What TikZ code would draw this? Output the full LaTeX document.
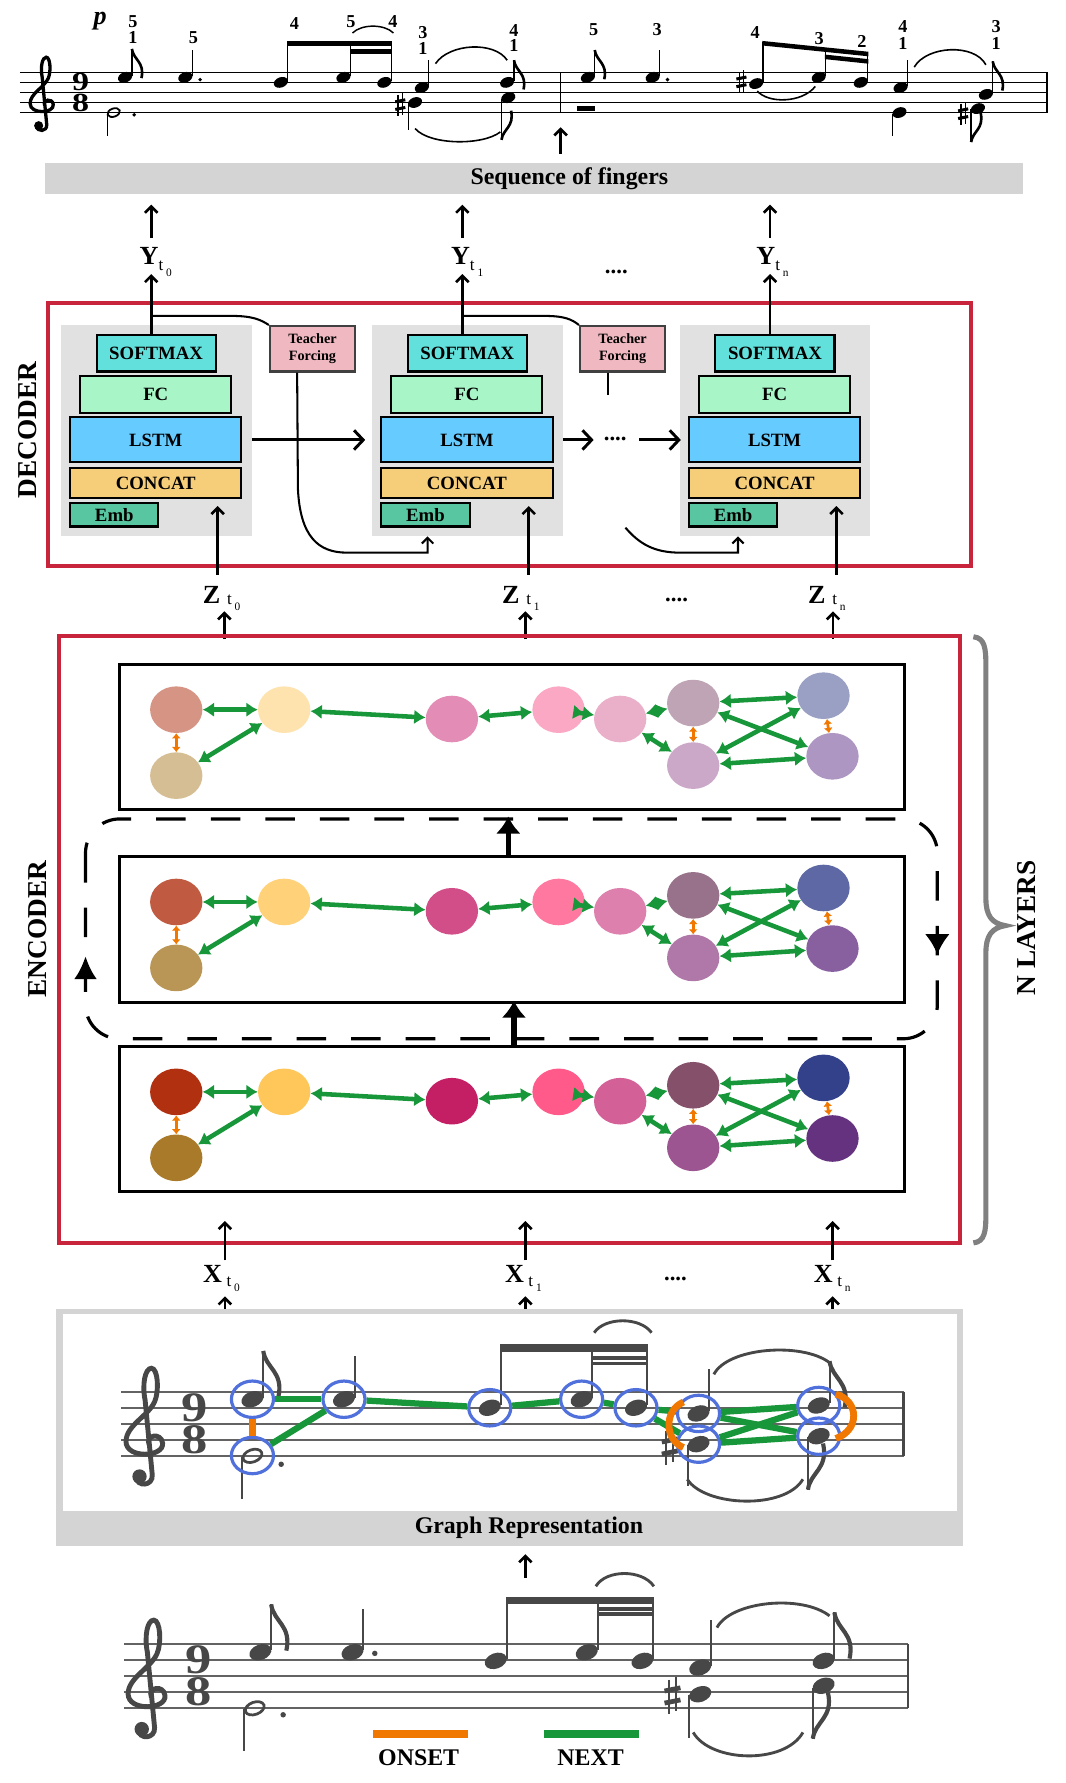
\documentclass[tikz,border=0pt]{standalone}
\usepackage{fontspec}
\setmainfont{Liberation Serif}
\usetikzlibrary{arrows.meta,shapes.geometric}
\definecolor{redbox}{HTML}{C8243C}
\definecolor{panelgray}{HTML}{E1E1E1}
\definecolor{barg}{HTML}{D4D4D4}
\definecolor{smc}{HTML}{62E0DC}
\definecolor{fcc}{HTML}{A8F6C8}
\definecolor{lsc}{HTML}{66CCFF}
\definecolor{ccc}{HTML}{F6CE7A}
\definecolor{emc}{HTML}{58C6A0}
\definecolor{tfc}{HTML}{F0B8C0}
\definecolor{gedgec}{HTML}{17963A}
\definecolor{oedgec}{HTML}{F07800}
\definecolor{bluec}{HTML}{5070DC}
\definecolor{scoreg}{HTML}{474747}
\definecolor{braceg}{HTML}{808080}
% node colours
\definecolor{ca1}{HTML}{D69484}\definecolor{ca2}{HTML}{FEE3AE}\definecolor{ca3}{HTML}{D6BE94}\definecolor{ca4}{HTML}{E28CB6}\definecolor{ca5}{HTML}{FBA8C4}
\definecolor{ca6}{HTML}{EAB0CA}\definecolor{ca7}{HTML}{BEA4B4}\definecolor{ca8}{HTML}{CCA8C8}\definecolor{ca9}{HTML}{9AA0C4}\definecolor{ca10}{HTML}{AE96C2}
\definecolor{cb1}{HTML}{C05A40}\definecolor{cb2}{HTML}{FFD27A}\definecolor{cb3}{HTML}{BA9656}\definecolor{cb4}{HTML}{D24E88}\definecolor{cb5}{HTML}{FF78A0}
\definecolor{cb6}{HTML}{DE80AE}\definecolor{cb7}{HTML}{98728A}\definecolor{cb8}{HTML}{B078A8}\definecolor{cb9}{HTML}{5E68A4}\definecolor{cb10}{HTML}{8860A0}
\definecolor{cc1}{HTML}{B03010}\definecolor{cc2}{HTML}{FFC75A}\definecolor{cc3}{HTML}{A87A2A}\definecolor{cc4}{HTML}{C41E65}\definecolor{cc5}{HTML}{FF5A8A}
\definecolor{cc6}{HTML}{D46098}\definecolor{cc7}{HTML}{84506A}\definecolor{cc8}{HTML}{9C5590}\definecolor{cc9}{HTML}{33418A}\definecolor{cc10}{HTML}{65327F}

\newcommand\sqlbl[4]{{\fontsize{23}{23}\selectfont\bfseries #1}\hspace{#3}\raisebox{-#4}{\fontsize{15}{15}\selectfont t}\hspace{2.5pt}\raisebox{\dimexpr-#4-5pt\relax}{\fontsize{10}{10}\selectfont #2}}
\newcommand\trebclef[5]{\begin{scope}[shift={(#1,#2)},x=#3pt,y=-#3pt]
 \draw[#5,line width=#4pt,line cap=round] (0.15,0.3) .. controls (-0.1,-0.3) and (0.9,-0.5) .. (1.0,0.2)
 .. controls (1.1,1.1) and (-1.3,1.2) .. (-1.3,0.1)
 .. controls (-1.3,-0.9) and (0.1,-1.5) .. (0.5,-2.4)
 .. controls (0.8,-3.1) and (0.7,-4.5) .. (0.3,-4.5)
 .. controls (-0.1,-4.5) and (-0.3,-3.5) .. (-0.1,-2.5)
 -- (0.35,2.2) .. controls (0.4,2.9) and (-0.6,3.0) .. (-0.7,2.3);
 \fill[#5] (-0.45,2.3) circle (0.45);
\end{scope}}
\newcommand\sharpsign[4]{\begin{scope}[shift={(#1,#2)},x=#3pt,y=-#3pt]
 \draw[#4,line width=0.12*#3pt] (-0.22,-1.0) -- (-0.22,1.15) (0.22,-1.15) -- (0.22,1.0);
 \draw[#4,line width=0.3*#3pt] (-0.5,-0.28) -- (0.5,-0.48) (-0.5,0.48) -- (0.5,0.28);
\end{scope}}
\newcommand\flagup[4]{\begin{scope}[shift={(#1,#2)},x=#3pt,y=-#3pt]\draw[#4,line width=0.26*#3pt] (0,0) .. controls (0.15,1.1) and (1.3,1.3) .. (0.95,2.9);\end{scope}}
\newcommand\flagdn[4]{\begin{scope}[shift={(#1,#2)},x=#3pt,y=-#3pt]\draw[#4,line width=0.26*#3pt] (0,0) .. controls (0.15,-1.1) and (1.3,-1.3) .. (0.95,-2.9);\end{scope}}
\newcommand\hA[2]{\fill[rotate around={20:(#1,#2)}] (#1,#2) ellipse (6.4pt and 4.5pt);}
\newcommand\hB[2]{\fill[scoreg,rotate around={20:(#1,#2)}] (#1,#2) ellipse (10pt and 6.8pt);}

\begin{document}
\begin{tikzpicture}[x=1pt,y=-1pt,
  panel/.style={fill=panelgray, minimum width=167.5pt, minimum height=186pt, inner sep=0},
  blk/.style={draw=black, line width=1.8pt, inner sep=0, font=\fontsize{16.5}{16.5}\selectfont\bfseries},
  tfbox/.style={draw=black!75, line width=1.8pt, fill=tfc, minimum width=75pt, minimum height=40pt, inner sep=0, align=center, font=\fontsize{12.5}{15}\selectfont\bfseries},
  arr/.style={line width=2.3pt, -{Straight Barb[length=5.5pt,width=11pt]}},
  arrL/.style={line width=2.6pt, -{Straight Barb[length=8pt,width=17pt]}},
  conn/.style={line width=1.8pt},
  gnode/.style={ellipse, minimum width=46pt, minimum height=41pt, inner sep=0},
  gedge/.style={gedgec, line width=4pt, {Latex[length=10pt,width=13pt]}-{Latex[length=10pt,width=13pt]}},
  oedge/.style={oedgec, line width=2.4pt, {Latex[length=4.5pt,width=8pt]}-{Latex[length=4.5pt,width=8pt]}},
  layerbox/.style={draw=black, line width=2.6pt, fill=white},
  bigup/.style={line width=4.5pt, -{Latex[length=15pt,width=22pt]}},
  bcirc/.style={ellipse, draw=bluec, line width=2.8pt, minimum width=37pt, minimum height=32pt, inner sep=0},
  gline/.style={gedgec, line width=5.5pt},
  oline/.style={oedgec, line width=5.5pt},
  title/.style={font=\fontsize{21}{21}\selectfont\bfseries, inner sep=0},
  side/.style={font=\fontsize{24}{24}\selectfont\bfseries, inner sep=0, rotate=90},
  fing/.style={font=\fontsize{16}{16}\selectfont\bfseries, inner sep=0},
  dots/.style={font=\fontsize{20}{20}\selectfont\bfseries, inner sep=0},
  tsig/.style={inner sep=0, xscale=1.3, align=center, font=\fontsize{23}{17.7}\selectfont\bfseries},
  tsigB/.style={inner sep=0, xscale=1.25, align=center, text=scoreg, font=\fontsize{37}{28.1}\selectfont\bfseries},
]
\useasboundingbox (0,0) rectangle (937,1568);
\fill[white] (0,0) rectangle (937,1568);

% ================= TOP SCORE =================
\foreach \yy in {63.6,72.45,81.3,90.15,99}{\draw[line width=0.9pt] (17.5,\yy) -- (920.5,\yy);}
\draw[line width=1.4pt] (493,63.6) -- (493,99);
\draw[line width=1.4pt] (920.5,63.6) -- (920.5,99);
\trebclef{38}{90.15}{8.85}{2.9}{black}
\node[tsig] (ts1) at (71,81.3) {9\\8};
\node[inner sep=0,font=\fontsize{23}{23}\selectfont\bfseries\itshape] (dyn) at (88,19) {p};
% fingerings
\node[fing] (f1) at (117,19) {5}; \node[fing] (f2) at (117,32.8) {1};
\node[fing] (f3) at (170,32.8) {5};
\node[fing] (f4) at (259,21) {4}; \node[fing] (f5) at (308.5,19) {5}; \node[fing] (f6) at (345.5,19) {4};
\node[fing] (f7) at (372,29) {3}; \node[fing] (f8) at (372,42.5) {1};
\node[fing] (f9) at (452,27) {4}; \node[fing] (f10) at (452,40) {1};
\node[fing] (f11) at (522,26) {5}; \node[fing] (f12) at (578,26) {3};
\node[fing] (f13) at (664,29) {4}; \node[fing] (f14) at (720.4,33.7) {3}; \node[fing] (f15) at (758,36.6) {2};
\node[fing] (f16) at (794,23) {4}; \node[fing] (f17) at (794,38) {1};
\node[fing] (f18) at (876,23.4) {3}; \node[fing] (f19) at (876,38) {1};
% notes measure 1
\hA{110}{68} \draw[line width=1.1pt] (116,67) -- (116,43); \flagup{116}{43}{8.85}{black}
\hA{163}{68} \draw[line width=1.1pt] (169,67) -- (169,44); \fill (176,70) circle (1.7);
\hA{247}{72.45} \draw[line width=1.1pt] (253,71) -- (253,38);
\hA{302}{68} \draw[line width=1.1pt] (308,67) -- (308,38);
\hA{338}{72.45} \draw[line width=1.1pt] (344,71) -- (344,38);
\fill (252.4,36.3) rectangle (344.6,40.3); \fill (307.4,43.3) rectangle (344.6,47.3);
\draw[line width=1.3pt] (310,29) .. controls (318,21) and (338,21) .. (346,29);
\hA{371}{77} \draw[line width=1.1pt] (377,76) -- (377,53);
\hA{365}{90.15} \draw[line width=1.1pt] (359,91) -- (359,114);
\sharpsign{352}{92}{8.85}{black}
\hA{446}{72.45} \draw[line width=1.1pt] (452,71) -- (452,53); \flagup{452}{53}{8.85}{black}
\hA{447}{85.9} \draw[line width=1.1pt] (441,87) -- (441,123); \flagdn{441}{123}{8.85}{black}
\draw[line width=1.4pt] (383,56) .. controls (395,38) and (435,36) .. (446,53);
\draw[line width=1.4pt] (365,113) .. controls (378,128) and (425,128) .. (440,116);
\draw[line width=1.6pt,rotate around={20:(100,99)}] (100,99) ellipse (5.6pt and 3.6pt);
\draw[line width=1.1pt] (94.3,100) -- (94.3,120); \fill (118,101) circle (1.7);
% measure 2
\hA{517}{68} \draw[line width=1.1pt] (523,67) -- (523,44); \flagup{523}{44}{8.85}{black}
\hA{574}{68} \draw[line width=1.1pt] (580,67) -- (580,44); \fill (587,70) circle (1.7);
\fill (507,93) rectangle (523,97.6);
\hA{665}{73.5} \draw[line width=1.1pt] (671,72) -- (671,37);
\sharpsign{652}{72}{8.85}{black}
\hA{720}{68} \draw[line width=1.1pt] (726,67) -- (726,42);
\hA{757}{72.45} \draw[line width=1.1pt] (763,71) -- (763,46);
\fill (670.4,36) -- (763.6,45.5) -- (763.6,49.5) -- (670.4,40) -- cycle;
\fill (725.4,48) -- (763.6,52) -- (763.6,56) -- (725.4,52) -- cycle;
\draw[line width=1.4pt] (666,80) .. controls (675,91) and (705,91) .. (717,76);
\hA{792}{77} \draw[line width=1.1pt] (798,76) -- (798,53);
\hA{791}{99} \draw[line width=1.1pt] (785,100) -- (785,120);
\hA{867}{83} \draw[line width=1.1pt] (873,82) -- (873,54); \flagup{873}{54}{8.85}{black}
\hA{860}{95.5} \draw[line width=1.1pt] (854,96) -- (854,125); \flagdn{854}{125}{8.85}{black}
\sharpsign{847}{100}{8.85}{black}
\draw[line width=1.4pt] (804,59) .. controls (815,40) and (857,38) .. (867,57);
% arrow and bar
\draw[arr] (493,135) -- (493,112);
\fill[barg] (39.8,143.6) rectangle (899.5,170.5);
\node[title] (seqf) at (500.7,157) {Sequence of fingers};

% ================= DECODER =================
\draw[redbox, line width=3.5pt] (41.9,266.6) rectangle (854,498);
\node[side] (declbl) at (24,378) {DECODER};
\foreach \k/\dx/\yl/\sb in {0/0/122.6/0,1/273.6/396.5/1,2/544.2/665/n}{
  \node[panel] (pn\k) at (137.5+\dx,378.7) {};
  \node[blk, fill=smc, minimum width=104.7pt, minimum height=32.2pt] (sm\k) at (137.3+\dx,310.6) {SOFTMAX};
  \node[blk, fill=fcc, minimum width=132.7pt, minimum height=32.3pt] (fc\k) at (137+\dx,347.2) {FC};
  \node[blk, fill=lsc, minimum width=150.7pt, minimum height=39.6pt] (ls\k) at (137+\dx,386.9) {LSTM};
  \node[blk, fill=ccc, minimum width=150.7pt, minimum height=26.4pt] (cc\k) at (137+\dx,424.8) {CONCAT};
  \node[blk, fill=emc, minimum width=77.7pt, minimum height=20.6pt] (em\k) at (100.5+\dx,452.7) {Emb};
  \coordinate (yo\k) at (133+\dx,241);
  \draw[arr] (sm\k.north -| yo\k) -- (yo\k);
  \node[anchor=base west, inner sep=0] (yl\k) at (\yl,233) {\sqlbl{Y}{\sb}{0pt}{5pt}};
  \draw[arr] (133+\dx,209.5) -- (133+\dx,180);
  \coordinate (di\k) at (191.4+\dx,445);
  \draw[arr] (191.4+\dx,505.4) -- (di\k);
}
\node[dots] (ydots) at (542,239) {....};
% teacher forcing
\node[tfbox] (tf0) at (274.8,306.7) {Teacher\\Forcing};
\node[tfbox] (tf1) at (547.5,306.7) {Teacher\\Forcing};
\draw[conn] (133,277.8) -- (203,277.8) .. controls (222,277.8) and (229,281) .. (tf0.north west);
\draw[conn] (406.6,277.8) -- (478,277.8) .. controls (497,277.8) and (503,281) .. (tf1.north west);
\draw[conn,-{Straight Barb[length=5pt,width=10pt]}] (tf0.south -| 261.3,0) -- (262,430) .. controls (264,472) and (280,486) .. (305,486) -- (376,486) -- (376,471.7);
\draw[conn] (tf1.south -| 535,0) -- (535,347);
\draw[conn,-{Straight Barb[length=5pt,width=10pt]}] (550,464) .. controls (562,478) and (575,486) .. (598,486) -- (649,486) -- (649,471.7);
% LSTM recurrences
\draw[arrL] (pn0.east |- ls0) -- ([xshift=-6pt]pn1.west |- ls1);
\draw[arrL] (pn1.east |- ls1) -- ++(27,0);
\node[dots] (ldots) at (541,386) {....};
\draw[arrL] (562,386.9) -- ([xshift=1pt]pn2.west |- ls2);

% Z labels
\node[anchor=base west, inner sep=0] (zl0) at (178.2,530.3) {\sqlbl{Z}{0}{6pt}{1.5pt}};
\node[anchor=base west, inner sep=0] (zl1) at (441.3,530.3) {\sqlbl{Z}{1}{6pt}{1.5pt}};
\node[anchor=base west, inner sep=0] (zl2) at (710.4,530.3) {\sqlbl{Z}{n}{6pt}{1.5pt}};
\node[dots] (zdots) at (595,528) {....};
\foreach \xx in {197.3,462,732.6}{\draw[arr] (\xx,562) -- (\xx,537.6);}

% ================= ENCODER =================
\draw[redbox, line width=3.5pt] (51.8,559) rectangle (844,1093);
\node[side] (enclbl) at (33,817) {ENCODER};
\node[layerbox, minimum width=690pt, minimum height=127.5pt] (lay1) at (450.5,648.2) {};
\draw[line width=2.8pt, dash pattern=on 26pt off 22pt, rounded corners=30pt] (75.2,720.2) rectangle (824.3,913.5);
\node[layerbox, minimum width=690pt, minimum height=128.3pt] (lay2) at (450.5,817.7) {};
\node[layerbox, minimum width=690pt, minimum height=126.9pt] (lay3) at (450.5,984) {};
\draw[bigup] (lay2.north -| 447,0) -- (447,718);
\draw[bigup] (lay3.north -| 452,0) -- (452,880);
\draw[line width=2.8pt,-{Latex[length=20pt,width=20pt]}] (75.2,868) -- (75.2,841);
\draw[line width=2.8pt,-{Latex[length=18pt,width=22pt]}] (824.3,815) -- (824.3,839.4);
\foreach \l/\dy in {a/0,b/169.1,c/336.1}{
  \foreach \i/\px/\py in {1/155/624.1,2/249.9/624.1,3/155/682.1,4/397.4/632.3,5/491.2/624.1,6/545.4/632.3,7/609.6/618.3,8/609.6/673.3,9/724.2/611.8,10/732.1/665.1}{
    \node[gnode, fill=c\l\i] (\l\i) at (\px,\py+\dy) {};
  }
  \foreach \p/\q in {1/2,2/3,2/4,4/5,5/6,6/7,6/8,7/9,7/10,8/9,8/10}{\draw[gedge] (\l\p) -- (\l\q);}
  \foreach \p/\q in {1/3,7/8,9/10}{\draw[oedge] (\l\p) -- (\l\q);}
}
% brace
\draw[braceg, line width=4.5pt] (856,560) .. controls (866,561) and (867,570) .. (867,585) -- (867,790) .. controls (867,805) and (872,812) .. (884,814)
 .. controls (872,816) and (867,823) .. (867,838) -- (867,1068) .. controls (867,1083) and (866,1092) .. (856,1093);
\node[side] (nlay) at (903,816) {N LAYERS};

% X labels
\node[anchor=base west, inner sep=0] (xl0) at (178.5,1128) {\sqlbl{X}{0}{4pt}{3pt}};
\node[anchor=base west, inner sep=0] (xl1) at (443.9,1128) {\sqlbl{X}{1}{4pt}{3pt}};
\node[anchor=base west, inner sep=0] (xl2) at (715.5,1128) {\sqlbl{X}{n}{4pt}{3pt}};
\node[dots] (xdots) at (594,1125) {....};
\foreach \xx in {197.8,462,732.2}{\draw[arr] (\xx,1108.3) -- (\xx,1073.8); \draw[arr] (\xx,1158.8) -- (\xx,1140);}

% ================= GRAPH REPRESENTATION =================
\fill[barg] (49.2,1151.5) rectangle (846.6,1359.5);
\fill[white] (55.4,1155.9) rectangle (841.6,1328.7);
\node[title] (grt) at (465.2,1343.4) {Graph Representation};
\foreach \yy in {1224.1,1238.15,1252.2,1266.25,1280.3}{\draw[scoreg!85, line width=1.5pt] (106.5,\yy) -- (794.6,\yy);}
\draw[scoreg, line width=2pt] (794.6,1224.1) -- (794.6,1280.3);
\trebclef{129}{1266.25}{14}{4.3}{scoreg}
\node[tsigB] (ts2) at (171.6,1252.2) {9\\8};
\hB{222}{1230.5} \draw[scoreg,line width=1.8pt] (231.5,1229) -- (231.5,1188); \flagup{231.5}{1188}{14}{scoreg}
\draw[scoreg,line width=2.4pt,rotate around={20:(222,1280.3)}] (222,1280.3) ellipse (8.6pt and 5.4pt);
\draw[scoreg,line width=1.8pt] (212.8,1281) -- (212.8,1318.5); \fill[scoreg] (247.3,1287.7) circle (2.4);
\hB{302.5}{1230.5} \draw[scoreg,line width=1.8pt] (312,1229) -- (312,1192.5);
\hB{430.7}{1238} \draw[scoreg,line width=1.8pt] (440.2,1236) -- (440.2,1183);
\hB{511.5}{1230.5} \draw[scoreg,line width=1.8pt] (521,1229) -- (521,1183);
\hB{559.3}{1238} \draw[scoreg,line width=1.8pt] (568.8,1236) -- (568.8,1183);
\fill[scoreg] (439.3,1182.2) rectangle (569.7,1189.3);
\fill[scoreg] (520.1,1192.5) rectangle (569.7,1196.2); \fill[scoreg] (520.1,1197.5) rectangle (569.7,1200.8);
\draw[scoreg,line width=2.5pt] (522.5,1172) .. controls (532,1158) and (563,1158) .. (573,1172);
\hB{614.3}{1243} \draw[scoreg,line width=1.8pt] (623.8,1241) -- (623.8,1204);
\hB{614.3}{1270} \draw[scoreg,line width=1.8pt] (604.8,1271) -- (604.8,1306.7);
\sharpsign{589}{1272}{14}{scoreg}
\hB{720}{1236} \draw[scoreg,line width=1.8pt] (729.5,1234) -- (729.5,1197); \flagup{729.5}{1197}{14}{scoreg}
\hB{720}{1263} \draw[scoreg,line width=1.8pt] (710.5,1264) -- (710.5,1310); \flagdn{710.5}{1310}{14}{scoreg}
\draw[scoreg,line width=2.5pt] (627.8,1208.6) .. controls (640,1185) and (705,1180) .. (729.5,1198.3);
\draw[scoreg,line width=2.5pt] (604.4,1300.9) .. controls (620,1325) and (690,1328) .. (706.1,1300.9);
% graph circles and edges
\node[bcirc] (ga) at (222,1230.5) {};
\node[bcirc] (gb) at (222,1280) {};
\node[bcirc] (gc) at (302.5,1230.5) {};
\node[bcirc] (gd) at (430.7,1238) {};
\node[bcirc] (ge) at (511.5,1230.5) {};
\node[bcirc] (gf) at (559.3,1238) {};
\node[bcirc] (gg) at (614.3,1243) {};
\node[bcirc] (gh) at (614.3,1270) {};
\node[bcirc] (gi) at (720,1236) {};
\node[bcirc] (gj) at (720,1263) {};
\foreach \p/\q in {a/c,b/c,c/d,d/e,e/f,f/g,f/h,g/i,g/j,h/i,h/j}{\draw[gline] (g\p) -- (g\q);}
\draw[oline] (ga) -- (gb);
\draw[oedgec, line width=6pt] (601,1233) .. controls (584,1240) and (584,1266) .. (601,1273);
\draw[oedgec, line width=6pt] (735,1226) .. controls (756,1232) and (756,1258) .. (735,1265);

\draw[arr] (462,1387.3) -- (462,1366.8);

% ================= BOTTOM SCORE =================
\foreach \yy in {1445.9,1460,1474.1,1488.2,1502.3}{\draw[scoreg!85, line width=1.5pt] (109,\yy) -- (798.8,\yy);}
\draw[scoreg, line width=2pt] (798.8,1445.9) -- (798.8,1502.3);
\trebclef{131}{1488.2}{14.1}{4.3}{scoreg}
\node[tsigB] (ts3) at (174.3,1474.1) {9\\8};
\hB{229}{1453} \draw[scoreg,line width=1.8pt] (238.5,1451) -- (238.5,1411); \flagup{238.5}{1411}{14}{scoreg}
\draw[scoreg,line width=2.4pt,rotate around={20:(224,1502.3)}] (224,1502.3) ellipse (8.6pt and 5.4pt);
\draw[scoreg,line width=1.8pt] (214.8,1503) -- (214.8,1540); \fill[scoreg] (249,1508) circle (2.4);
\hB{310}{1453} \draw[scoreg,line width=1.8pt] (319.5,1451) -- (319.5,1415); \fill[scoreg] (329.6,1454) circle (2.4);
\hB{436}{1460.6} \draw[scoreg,line width=1.8pt] (445.5,1459) -- (445.5,1405);
\hB{516}{1453} \draw[scoreg,line width=1.8pt] (525.5,1451) -- (525.5,1405);
\hB{565}{1460.6} \draw[scoreg,line width=1.8pt] (574.5,1459) -- (574.5,1405);
\fill[scoreg] (444.6,1404.3) rectangle (575.4,1410.8);
\fill[scoreg] (524.6,1413.4) rectangle (575.4,1416.6); \fill[scoreg] (524.6,1418) rectangle (575.4,1421);
\draw[scoreg,line width=2.5pt] (524,1395) .. controls (533,1380) and (565,1380) .. (575,1395);
\hB{615.8}{1466.4} \draw[scoreg,line width=1.8pt] (625.3,1465) -- (625.3,1425);
\hB{615.8}{1489.9} \draw[scoreg,line width=1.8pt] (606.3,1491) -- (606.3,1528);
\sharpsign{591.4}{1491}{14}{scoreg}
\hB{724.3}{1460.6} \draw[scoreg,line width=1.8pt] (733.8,1459) -- (733.8,1418); \flagup{733.8}{1418}{14}{scoreg}
\hB{724.3}{1482.5} \draw[scoreg,line width=1.8pt] (714.8,1484) -- (714.8,1529); \flagdn{714.8}{1529}{14}{scoreg}
\draw[scoreg,line width=2.5pt] (630.5,1431.3) .. controls (643,1408) and (705,1402) .. (729.5,1421);
\draw[scoreg,line width=2.5pt] (609.6,1523.5) .. controls (625,1550) and (690,1552) .. (706.1,1523.5);
% legend
\fill[oedgec] (328,1521.5) rectangle (411.5,1528.8);
\fill[gedgec] (478.2,1521.5) rectangle (561.7,1528.8);
\node[title] (lgo) at (368.2,1546) {ONSET};
\node[title] (lgn) at (519.4,1546) {NEXT};
\end{tikzpicture}
\end{document}
